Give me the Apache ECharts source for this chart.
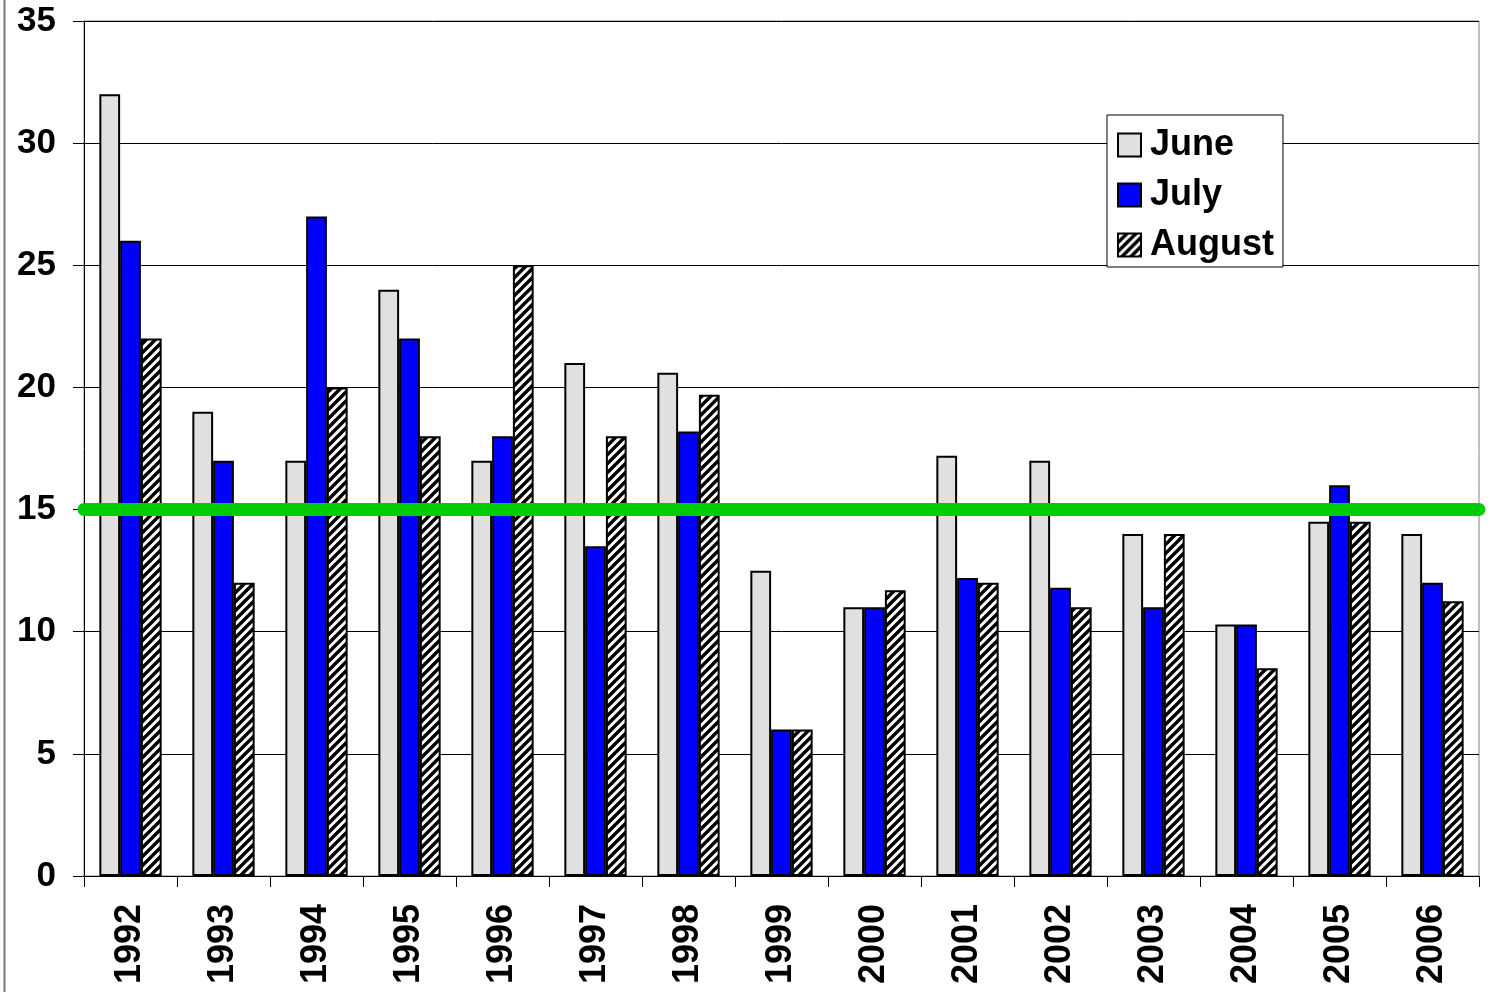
<!DOCTYPE html>
<html>
<head>
<meta charset="utf-8">
<script src="https://cdn.jsdelivr.net/npm/echarts@6/dist/echarts.min.js"></script>
<style>
html,body{margin:0;padding:0;background:#fff;}
#chart{width:1509px;height:992px;}
</style>
</head>
<body>
<div id="chart"></div>
<script>
var years = ['1992','1993','1994','1995','1996','1997','1998','1999','2000','2001','2002','2003','2004','2005','2006'];
var june   = [32, 19, 17, 24, 17, 21, 20.6, 12.5, 11, 17.2, 17, 14, 10.3, 14.5, 14];
var july   = [26, 17, 27, 22, 18, 13.5, 18.2, 6, 11, 12.2, 11.8, 11, 10.3, 16, 12];
var august = [22, 12, 20, 18, 25, 18, 19.7, 6, 11.7, 12, 11, 14, 8.5, 14.5, 11.25];
var yTicks = [0, 5, 10, 15, 20, 25, 30, 35];
var threshold = 15;

// hatch pattern for August
var T = 9;
var pc = document.createElement('canvas');
pc.width = T; pc.height = T;
var ctx = pc.getContext('2d');
ctx.fillStyle = '#fff';
ctx.fillRect(0,0,T,T);
ctx.strokeStyle = '#000';
ctx.lineWidth = 3.4;
ctx.beginPath();
ctx.moveTo(-2,T+2); ctx.lineTo(T+2,-2);
ctx.moveTo(-2,2); ctx.lineTo(2,-2);
ctx.moveTo(T-2,T+2); ctx.lineTo(T+2,T-2);
ctx.stroke();
var hatch = {image: pc, repeat: 'repeat'};

var FONT = '"Liberation Sans", Arial, sans-serif';
var chart = echarts.init(document.getElementById('chart'), null, {renderer: 'canvas'});
chart.setOption({
  animation: false,
  backgroundColor: '#fff',
  textStyle: {fontFamily: FONT},
  grid: {
    left: 84, right: 30, top: 21, bottom: 116,
    show: true, borderColor: '#808080', borderWidth: 1, backgroundColor: 'transparent'
  },
  legend: {
    orient: 'vertical',
    left: 1107, top: 115,
    padding: [12, 9, 4, 10],
    itemWidth: 23, itemHeight: 23,
    itemGap: 14,
    backgroundColor: '#fff',
    borderColor: '#000', borderWidth: 1,
    selectedMode: false,
    textStyle: {fontFamily: FONT, fontWeight: 'bold', fontSize: 36, lineHeight: 34, color: '#000', padding: [0,0,0,4]},
    data: [
      {name: 'June', icon: 'rect'},
      {name: 'July', icon: 'rect'},
      {name: 'August', icon: 'rect'}
    ]
  },
  xAxis: {
    type: 'category',
    data: years,
    boundaryGap: true,
    axisLine: {lineStyle: {color: '#000', width: 1}},
    axisTick: {show: true, alignWithLabel: false, length: 11, lineStyle: {color: '#000'}},
    axisLabel: {rotate: 90, margin: 28, fontFamily: FONT, fontWeight: 'bold', fontSize: 36, color: '#000', interval: 0}
  },
  yAxis: {
    type: 'value',
    min: yTicks[0], max: yTicks[yTicks.length-1], interval: 5,
    axisLine: {show: true, lineStyle: {color: '#000', width: 1}},
    axisTick: {show: true, length: 11, lineStyle: {color: '#000'}},
    splitLine: {show: true, lineStyle: {color: '#000', width: 1}},
    axisLabel: {margin: 28, fontFamily: FONT, fontWeight: 'bold', fontSize: 35, color: '#000'}
  },
  series: [
    {
      name: 'June', type: 'bar', data: june,
      barGap: '0%', barCategoryGap: '33%',
      itemStyle: {color: '#e0e0e0', borderColor: '#000', borderWidth: 2}
    },
    {
      name: 'July', type: 'bar', data: july,
      barGap: '0%', barCategoryGap: '33%',
      itemStyle: {color: '#0000ff', borderColor: '#000', borderWidth: 2}
    },
    {
      name: 'August', type: 'bar', data: august,
      barGap: '0%', barCategoryGap: '33%',
      itemStyle: {color: hatch, borderColor: '#000', borderWidth: 2}
    },
    {
      name: 'threshold', type: 'line', data: [], z: 10,
      markLine: {
        silent: true, symbol: ['none','none'],
        label: {show: false},
        lineStyle: {color: '#00cc00', width: 13, type: 'solid', cap: 'round'},
        data: [{yAxis: threshold}]
      }
    }
  ],
  graphic: [
    {type: 'line', shape: {x1: 4.5, y1: 0, x2: 4.5, y2: 992}, style: {stroke: '#777', lineWidth: 2}}
  ]
});
</script>
</body>
</html>
